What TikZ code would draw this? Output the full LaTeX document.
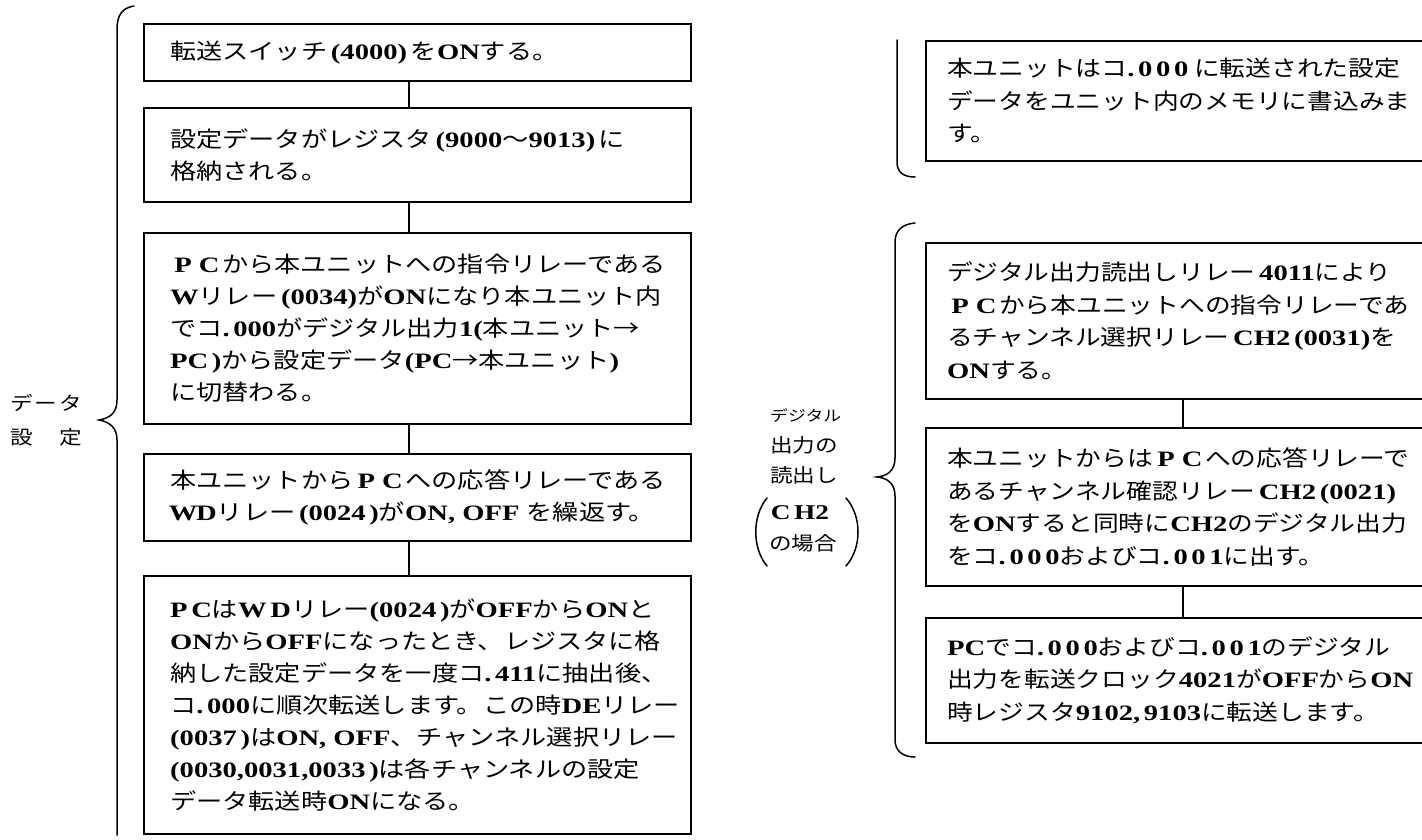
\documentclass[tikz,border=0pt]{standalone}
\usepackage{fontspec}
\setmainfont{Liberation Serif}
\newfontfamily\jpl[FakeStretch=1.19]{Noto Sans CJK JP}
\newfontfamily\jpr[FakeStretch=1.17]{Noto Sans CJK JP}
\newfontfamily\latf[FakeStretch=1.3]{Liberation Serif}
\newcommand\ltn[1]{{\latf\bfseries #1}}
\newcommand\fwl[1]{\makebox[26pt]{\ltn{#1}}}
\tikzset{
  box/.style={draw, line width=1.6pt, rectangle, inner sep=0pt, anchor=north west},
  txt/.style={anchor=west, align=left, inner sep=0pt, font=\fontsize{22}{32}\selectfont\jpl},
  txtr/.style={txt, font=\fontsize{22}{32.5}\selectfont\jpr},
  lab/.style={inner sep=0pt, font=\fontsize{19}{24}\selectfont\jpl},
  link/.style={line width=2pt},
  brace/.style={line width=1.5pt, line cap=round}
}
\begin{document}
\begin{tikzpicture}[x=1pt,y=-1pt]
\useasboundingbox (0,0) rectangle (1422,840);
\fill[white] (0,0) rectangle (1422,840);
\clip (0,0) rectangle (1422,840);

% ---------- left column ----------
\node[box, minimum width=547pt, minimum height=57pt]  (b1) at (143,23) {};
\node[box, minimum width=547pt, minimum height=94pt]  (b2) at (143,107) {};
\node[box, minimum width=547pt, minimum height=191pt] (b3) at (143,232) {};
\node[box, minimum width=547pt, minimum height=87pt]  (b4) at (143,453) {};
\node[box, minimum width=547pt, minimum height=258pt] (b5) at (143,575) {};

\node[txt] (t1) at ([xshift=27pt]b1.west) {転送スイッチ\ltn{\,(4000)\,}を\ltn{ON}する。};
\node[txt] (t2) at ([xshift=27pt]b2.west) {設定データがレジスタ\ltn{\,(9000}～\ltn{9013)\,}に\\格納される。};
\node[txt] (t3) at ([xshift=27pt]b3.west) {\fwl{P}\fwl{C}から本ユニットへの指令リレーである\\
\ltn{W}リレー\ltn{\,(0034)}が\ltn{ON}になり本ユニット内\\
でコ\ltn{.\,000}がデジタル出力\ltn{1(}本ユニット→\\
\ltn{PC\,)}から設定データ\ltn{(PC}→本ユニット\ltn{)}\\
に切替わる。};
\node[txt] (t4) at ([xshift=27pt]b4.west) {本ユニットから\fwl{P}\fwl{C}への応答リレーである\\
\fwl{W}\ltn{D}リレー\ltn{\,(0024\,)}が\ltn{ON, OFF }を繰返す。};
\node[txt] (t5) at ([xshift=27pt]b5.west) {\ltn{P\,C}は\ltn{W\,D}リレー\ltn{(0024\,)}が\ltn{OFF}から\ltn{ON}と\\
\ltn{ON}から\ltn{OFF}になったとき、レジスタに格\\
納した設定データを一度コ\ltn{.\,411}に抽出後、\\
コ\ltn{.\,000}に順次転送します。この時\ltn{DE}リレー\\
\ltn{(0037\,)}は\ltn{ON, OFF}、チャンネル選択リレー\\
\ltn{(0030,0031,0033\,)}は各チャンネルの設定\\
データ転送時\ltn{ON}になる。};

\draw[link] ([xshift=-8pt]b1.south) -- ([xshift=-8pt]b2.north);
\draw[link] ([xshift=-8pt]b2.south) -- ([xshift=-8pt]b3.north);
\draw[link] ([xshift=-8pt]b3.south) -- ([xshift=-8pt]b4.north);
\draw[link] ([xshift=-8pt]b4.south) -- ([xshift=-8pt]b5.north);

% left brace and label
\draw[brace] (134,6) .. controls (122,8) and (117,15) .. (117,30) -- (117,400)
  .. controls (117,413) and (110,418) .. (99,420)
  .. controls (110,422) and (117,428) .. (117,440) -- (117,835);
\node[lab] (l1) at (46,403) {\makebox[72pt]{デ\hfill ー\hfill タ}};
\node[lab] (l2) at (46,437) {\makebox[72pt]{設\hfill 定}};

% ---------- right column ----------
\node[box, minimum width=515pt, minimum height=120pt] (r1) at (925,40) {};
\node[box, minimum width=515pt, minimum height=156pt] (r2) at (925,242) {};
\node[box, minimum width=515pt, minimum height=158pt] (r3) at (925,427) {};
\node[box, minimum width=515pt, minimum height=125pt] (r4) at (925,617) {};

\node[txtr] (s1) at ([xshift=22pt]r1.west) {本ユニットはコ\ltn{.\,0\,0\,0} に転送された設定\\
データをユニット内のメモリに書込みま\\
す。};
\node[txtr] (s2) at ([xshift=22pt]r2.west) {デジタル出力読出しリレー\ltn{\,4011}により\\
\fwl{P}\fwl{C}から本ユニットへの指令リレーであ\\
るチャンネル選択リレー\ltn{\,CH2\,(0031)}を\\
\ltn{ON}する。};
\node[txtr] (s3) at ([xshift=22pt]r3.west) {本ユニットからは\fwl{P}\fwl{C}への応答リレーで\\
あるチャンネル確認リレー\ltn{\,CH2\,(0021)}\\
を\ltn{ON}すると同時に\ltn{CH2}のデジタル出力\\
をコ\ltn{.\,0\,0\,0}およびコ\ltn{.\,0\,0\,1}に出す。};
\node[txtr] (s4) at ([xshift=22pt]r4.west) {\ltn{PC}でコ\ltn{.\,0\,0\,0}およびコ\ltn{.\,0\,0\,1}のデジタル\\
出力を転送クロック\ltn{4021}が\ltn{OFF}から\ltn{ON}\\
時レジスタ\ltn{9102,\,9103}に転送します。};

\draw[link] (r2.south) -- (r3.north);
\draw[link] (r3.south) -- (r4.north);

% right braces
\draw[brace] (897,40) -- (897,162) .. controls (897,172) and (903,177) .. (915,177);
\draw[brace] (915,223) .. controls (903,224) and (895,230) .. (895,242) -- (895,458)
  .. controls (895,470) and (888,476) .. (877,477)
  .. controls (888,478) and (895,484) .. (895,496) -- (895,740)
  .. controls (895,751) and (903,757) .. (915,757);

% right label
\node[lab, anchor=west, font=\fontsize{15}{20}\selectfont\jpl] (m1) at (770,416) {デジタル};
\node[lab, anchor=west] (m2) at (770,445) {出力の};
\node[lab, anchor=west] (m3) at (770,475) {読出し};
\node[lab] (m4) at (800,513) {\fontsize{21}{24}\selectfont\ltn{C\,H2}};
\node[lab] (m5) at (803,543) {の場合};
\draw[brace] (767,498) .. controls (752,516) and (752,548) .. (767,566);
\draw[brace] (846,498) .. controls (862,516) and (862,548) .. (846,566);
\end{tikzpicture}
\end{document}
